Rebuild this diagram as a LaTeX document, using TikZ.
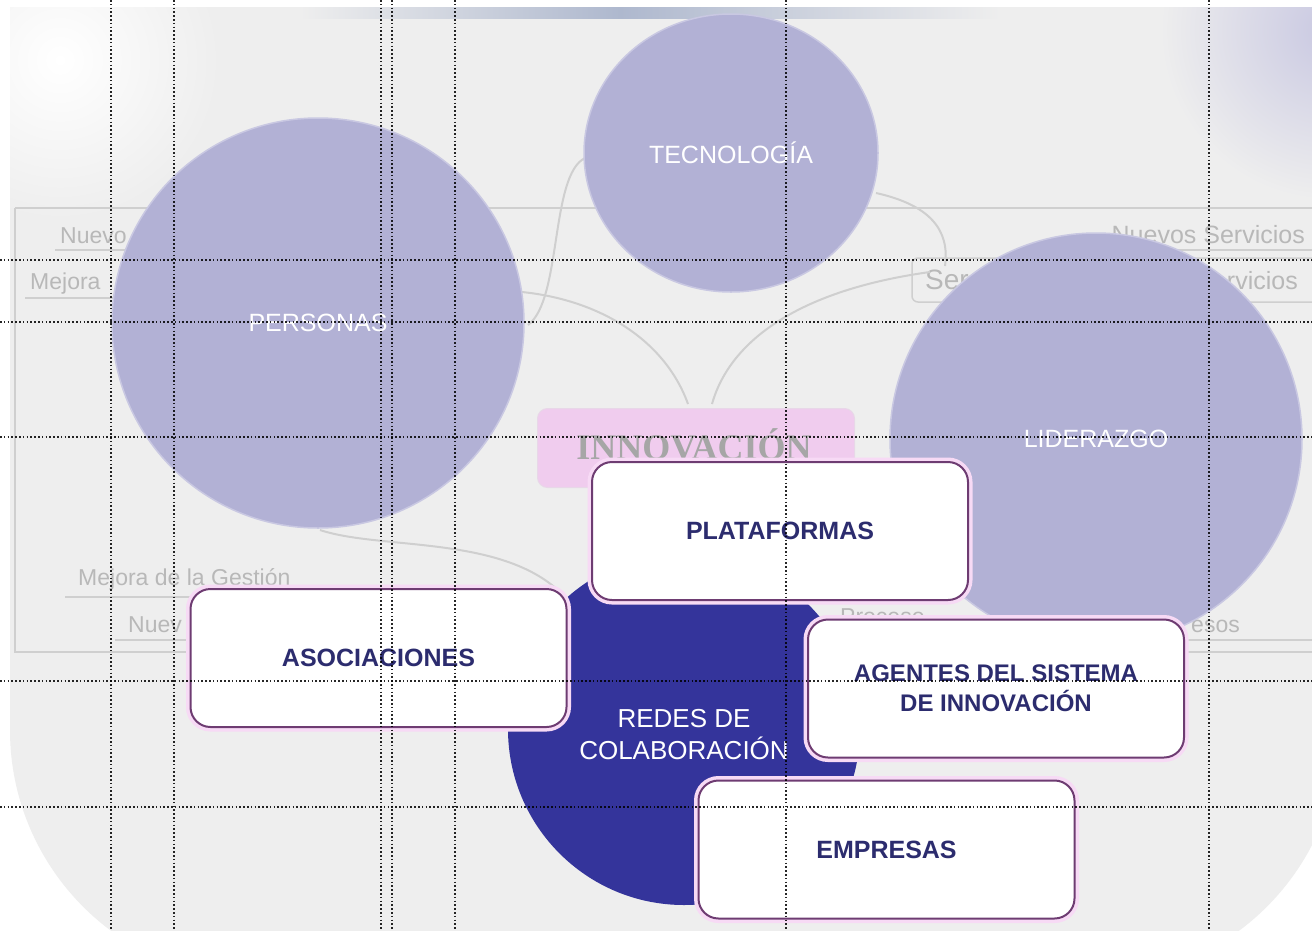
\documentclass[tikz,border=0pt]{standalone}
\usepackage{fontspec}
\setmainfont{Liberation Sans}
\newfontfamily\serifbold{Liberation Serif}
\usetikzlibrary{shapes.geometric}
\definecolor{lav}{HTML}{B2B1D5}
\definecolor{lavedge}{HTML}{C9C8E2}
\definecolor{navy}{HTML}{34349B}
\definecolor{txtnavy}{HTML}{2C2C6E}
\definecolor{boxline}{HTML}{6E3C72}
\definecolor{glow}{HTML}{F7DAF5}
\definecolor{bgcol}{HTML}{EEEEEE}
\definecolor{faint}{HTML}{B8B8B8}
\definecolor{faintline}{HTML}{CFCFCF}
\definecolor{pinkbox}{HTML}{F0CCEE}
\definecolor{topband}{HTML}{AEB8CE}
\tikzset{
  bigcirc/.style={ellipse, fill=lav, draw=lavedge, line width=1.5pt, text=white,
    font=\fontsize{25}{28}\selectfont, inner sep=0pt},
  wbox/.style={rectangle, rounded corners=20pt, fill=white, draw=boxline, line width=2pt,
    preaction={draw=glow, line width=9pt},
    minimum width=376pt, minimum height=138pt, text=txtnavy, align=center,
    font=\bfseries\fontsize{25}{30}\selectfont},
  ftext/.style={text=faint, font=\fontsize{23}{25}\selectfont, inner sep=0pt},
  bgline/.style={draw=faintline, line width=2pt},
  gridline/.style={draw=black, line width=1.3pt, dash pattern=on 1.6pt off 2.2pt, opacity=0.85}
}
\begin{document}
\begin{tikzpicture}[x=1pt,y=-1pt]
\useasboundingbox (0,0) rectangle (1312,930);
% background
\fill[white] (0,0) rectangle (1312,930);
\fill[bgcol, rounded corners=250pt] (10,7) rectangle (1340,980);
\begin{scope}
\clip (10,7) rectangle (1312,500);
\fill[bgcol] (10,7) rectangle (1312,500);
\shade[inner color=white, outer color=bgcol] (60,60) circle (160pt);
\shade[inner color=lav!70!white, outer color=bgcol] (1330,30) circle (170pt);
\shade[left color=bgcol, right color=topband] (300,7) rectangle (620,18);
\shade[left color=topband, right color=bgcol] (620,7) rectangle (1000,18);
\end{scope}
% faded background box and texts
\draw[faintline, line width=1.5pt] (15,208) -- (1312,208);
\draw[faintline, line width=1.5pt] (1312,652) -- (15,652) -- (15,208);
\node[ftext, anchor=base west] (t1) at (60,243) {Nuevo};
\draw[faintline, line width=1.2pt] (55,250) -- (150,250);
\node[ftext, anchor=base west] (t2) at (30,289) {Mejora};
\draw[faintline, line width=1.2pt] (25,298) -- (150,298);
\node[ftext, anchor=base east, font=\fontsize{25}{27}\selectfont] (t3) at (1305,243) {Nuevos Servicios};
\draw[faintline, line width=1.2pt] (1090,250) -- (1312,250);
\draw[faintline, line width=1.5pt, rounded corners=6pt] (1320,258) -- (912,258) -- (912,302) -- (1320,302);
\node[ftext, anchor=base west, font=\fontsize{28}{30}\selectfont] (t4) at (925,289) {Ser};
\node[ftext, anchor=base east, font=\fontsize{25}{27}\selectfont] (t5) at (1298,289) {rvicios};
\node[ftext, anchor=base west] (t6) at (78,585) {Mejora de la Gestión};
\draw[faintline, line width=1.2pt] (65,597) -- (330,597);
\node[ftext, anchor=base west] (t7) at (128,632) {Nuev};
\draw[faintline, line width=1.2pt] (115,640) -- (200,640);
\node[ftext, anchor=base west] (t8) at (840,624) {Proceso};
\node[ftext, anchor=base east] (t9) at (1240,632) {esos};
\draw[faintline, line width=1.2pt] (1180,640) -- (1312,640);
% faded connectors
\coordinate (p1) at (522,292); \coordinate (q1) at (688,404);
\coordinate (p2) at (930,272); \coordinate (q2) at (712,404);
\coordinate (p3) at (585,158); \coordinate (q3) at (528,325);
\coordinate (p4) at (876,193); \coordinate (q4) at (945,266);
\coordinate (p5) at (320,530); \coordinate (q5) at (560,592);
\draw[bgline] (p1) .. controls (600,300) and (665,340) .. (q1);
\draw[bgline] (p2) .. controls (800,290) and (730,340) .. (q2);
\draw[bgline] (p3) .. controls (550,175) and (562,300) .. (q3);
\draw[bgline] (p4) .. controls (930,205) and (950,230) .. (q4);
\draw[bgline] (p5) .. controls (380,550) and (500,535) .. (q5);
% innovacion
\node[rectangle, rounded corners=10pt, fill=pinkbox, draw=pinkbox!80!gray!60, line width=1pt,
  minimum width=317pt, minimum height=79pt] (innov) at (696,448) {};
\node[text=gray!70, inner sep=0pt, font=\serifbold\bfseries\fontsize{36}{38}\selectfont] (innovt) at (694,444) {INNOVACIÓN};
% circles
\node[bigcirc, minimum width=294pt, minimum height=278pt] (tec) at (731,153) {TECNOLOGÍA};
\node[bigcirc, minimum width=412pt, minimum height=410pt] (per) at (318,323) {PERSONAS};
\node[bigcirc, minimum width=412pt, minimum height=412pt] (lid) at (1096,439) {LIDERAZGO};
\node[circle, fill=navy, minimum size=352pt, inner sep=0pt] (redes) at (684,729) {};
\node[text=white, align=center, font=\fontsize{26}{32}\selectfont] (redest) at (684,735) {REDES DE\\COLABORACIÓN};
% boxes
\node[wbox] (plat) at (780,531) {PLATAFORMAS};
\node[wbox] (asoc) at (378.5,658) {ASOCIACIONES};
\node[wbox, font=\bfseries\fontsize{24}{30}\selectfont] (agen) at (996,688.5) {AGENTES DEL SISTEMA\\DE INNOVACIÓN};
\node[wbox] (emp) at (886.5,849.5) {EMPRESAS};
% dotted grid
\foreach \xx in {111,174,381,392,455,786,1209} {
  \draw[gridline] (\xx,0) -- (\xx,930);
}
\foreach \yy in {260,322,437,681,807} {
  \draw[gridline] (0,\yy) -- (1312,\yy);
}
\end{tikzpicture}
\end{document}
